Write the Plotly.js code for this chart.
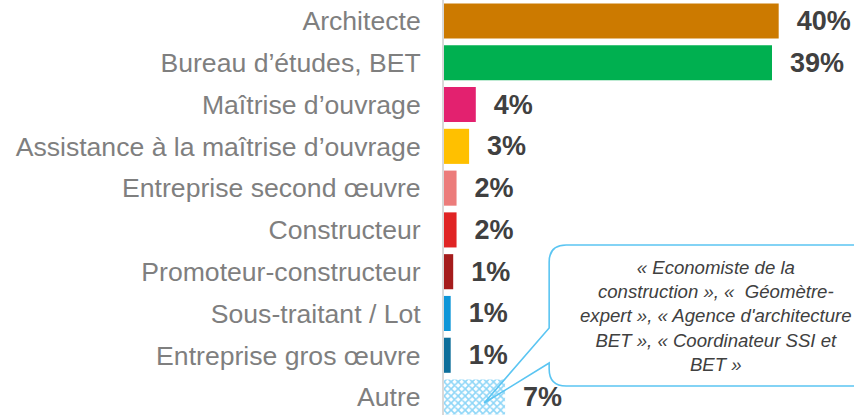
<!DOCTYPE html>
<html>
<head>
<meta charset="utf-8">
<script src="https://cdn.plot.ly/plotly-3.0.1.min.js"></script>
<style>html,body{margin:0;padding:0;background:#fff;}#chart{width:854px;height:415px;}</style>
</head>
<body>
<div id="chart"></div>
<script>
const categories = [
  "Architecte",
  "Bureau d’études, BET",
  "Maîtrise d’ouvrage",
  "Assistance à la maîtrise d’ouvrage",
  "Entreprise second œuvre",
  "Constructeur",
  "Promoteur-constructeur",
  "Sous-traitant / Lot",
  "Entreprise gros œuvre",
  "Autre"
];
const values = [40.0, 39.2, 3.8, 3.0, 1.5, 1.5, 1.1, 0.8, 0.8, 7.3];
const valueLabels = ["40%", "39%", "4%", "3%", "2%", "2%", "1%", "1%", "1%", "7%"];
const barColors = ["#CC7A00", "#00B050", "#E3216F", "#FFC000", "#EC7C7B", "#E02424", "#A51C1C", "#0E96D8", "#0D6E9A", "#8ED6F7"];
const barPatterns = ["", "", "", "", "", "", "", "", "", "x"];
const calloutText = "« Economiste de la<br>construction », «  Géomètre-<br>expert », « Agence d'architecture<br>BET », « Coordinateur SSI et<br>BET »";

const pad = "\u00a0\u00a0";
const trace = {
  type: "bar",
  orientation: "h",
  y: categories,
  x: values,
  text: valueLabels.map(t => pad + t),
  textposition: "outside",
  cliponaxis: false,
  textfont: {family: "Liberation Sans, Arial, sans-serif", size: 27, color: "#404040", weight: "bold"},
  marker: {
    color: barColors,
    line: {width: 0},
    pattern: {
      shape: barPatterns,
      fgcolor: "#8ED6F7",
      bgcolor: "#ffffff",
      fgopacity: 1,
      size: 5,
      solidity: 0.55,
      fillmode: "replace"
    }
  },
  hoverinfo: "none"
};

const last = categories.length - 1;
const tipX = 4.8;

const layout = {
  width: 854,
  height: 415,
  margin: {l: 444, r: 0, t: 0, b: 0},
  paper_bgcolor: "#ffffff",
  plot_bgcolor: "#ffffff",
  showlegend: false,
  bargap: 0.16,
  xaxis: {
    range: [0, 49],
    showgrid: false,
    zeroline: false,
    showticklabels: false,
    showline: false,
    fixedrange: true
  },
  yaxis: {
    type: "category",
    range: [9.43, -0.503],
    showgrid: false,
    zeroline: false,
    showline: true,
    linecolor: "#D9D9D9",
    linewidth: 2,
    ticks: "",
    ticklabelstandoff: 16,
    tickfont: {family: "Liberation Sans, Arial, sans-serif", size: 26.6, color: "#7F7F7F"},
    fixedrange: true
  },
  shapes: [
    {
      type: "path", layer: "above",
      xref: "x", yref: "y", xsizemode: "pixel", ysizemode: "pixel",
      xanchor: tipX, yanchor: last,
      path: "M 65,137 Q 65,152 82,152 L 384,152 Q 401,152 401,135 L 401,28 Q 401,11 384,11 L 82,11 Q 65,11 65,28 Z",
      fillcolor: "#ffffff",
      line: {width: 0}
    },
    {
      type: "path", layer: "above",
      xref: "x", yref: "y", xsizemode: "pixel", ysizemode: "pixel",
      xanchor: tipX, yanchor: last,
      path: "M 65,69 L 65,135 Q 65,152 82,152 L 384,152 Q 401,152 401,135 L 401,28 Q 401,11 384,11 L 82,11 Q 65,11 65,28 L 65,34 L 0,-6 Z",
      fillcolor: "rgba(0,0,0,0)",
      line: {color: "#5BC5F2", width: 1.6}
    }
  ],
  annotations: [
    {
      xref: "x", yref: "y",
      x: 32.5, y: 7.06,
      text: calloutText,
      showarrow: false,
      align: "center",
      xanchor: "center", yanchor: "middle",
      font: {family: "Liberation Sans, Arial, sans-serif", size: 18.6, color: "#404040", style: "italic"}
    }
  ]
};

Plotly.newPlot("chart", [trace], layout, {displayModeBar: false, staticPlot: true});
</script>
</body>
</html>
